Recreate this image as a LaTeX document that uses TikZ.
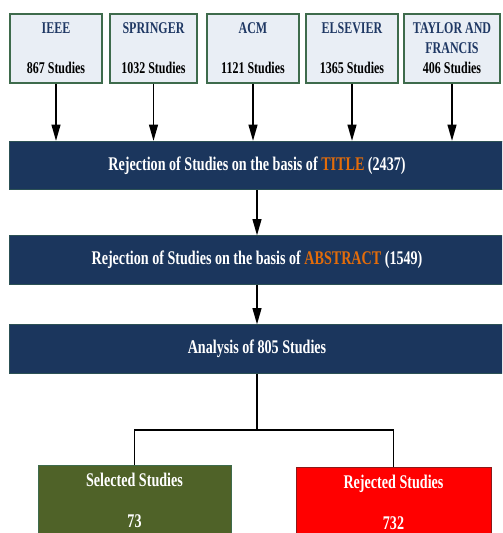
\documentclass[tikz,border=0pt]{standalone}
\usepackage{fontspec}
\setmainfont{Liberation Serif}[FakeStretch=0.73]
\usetikzlibrary{arrows.meta}
\definecolor{srcfill}{HTML}{E9EEF5}
\definecolor{srcline}{HTML}{3E6B4C}
\definecolor{navyfill}{HTML}{1B365D}
\definecolor{navytext}{HTML}{1F3864}
\definecolor{hilite}{HTML}{E36C0A}
\definecolor{olivefill}{HTML}{4F6228}
\definecolor{darkred}{HTML}{8B1A1A}
\tikzset{>={Triangle[length=14pt,width=7.5pt]}}

\begin{document}
\begin{tikzpicture}[x=0.03cm,y=-0.03cm,
  source/.style={draw=srcline,fill=srcfill,line width=0.9pt,minimum height=2.07cm,
    inner sep=0pt,align=center,text=navytext,font=\bfseries\fontsize{14}{17}\selectfont},
  stage/.style={draw=srcline!50!navyfill,fill=navyfill,line width=0.6pt,minimum width=14.88cm,
    minimum height=1.45cm,inner sep=0pt,text=white,font=\bfseries\fontsize{16.5}{19}\selectfont},
  result/.style={line width=0.8pt,minimum height=2.1cm,inner sep=0pt,align=center,
    text=white,font=\bfseries\fontsize{16.5}{19}\selectfont},
  flow/.style={line width=1.6pt}
]
\useasboundingbox (0,0) rectangle (502,533);
\clip (0,0) rectangle (502,533);

% sources
\node[source,minimum width=2.76cm] (ieee) at (56,48.5) {IEEE\\\mbox{}\\{\color{black}867 Studies}};
\node[source,minimum width=2.61cm] (springer) at (153.5,48.5) {SPRINGER\\\mbox{}\\{\color{black}1032 Studies}};
\node[source,minimum width=2.76cm] (acm) at (253,48.5) {ACM\\\mbox{}\\{\color{black}1121 Studies}};
\node[source,minimum width=2.76cm] (elsevier) at (352,48.5) {ELSEVIER\\\mbox{}\\{\color{black}1365 Studies}};
\node[source,minimum width=2.88cm] (taylor) at (452,48.5) {TAYLOR AND\\FRANCIS\\{\color{black}406 Studies}};

% screening stages
\node[stage] (title) at (257,165.5) {Rejection of Studies on the basis of {\color{hilite}TITLE} (2437)};
\node[stage] (abstract) at (257,260) {Rejection of Studies on the basis of {\color{hilite}ABSTRACT} (1549)};
\node[stage] (analysis) at (257,349) {Analysis of 805 Studies};

% outcome
\node[result,draw=srcline,fill=olivefill,minimum width=5.79cm] (selected) at (134.5,500) {Selected Studies\\[16pt]73};
\node[result,draw=darkred,fill=red,minimum width=5.85cm] (rejected) at (393.5,502) {Rejected Studies\\[16pt]732};

\foreach \src in {ieee,springer,acm,elsevier,taylor}
  \draw[flow,->] (\src.south) -- (\src.south |- title.north);
\draw[flow,->] (title) -- (abstract);
\draw[flow,->] (abstract) -- (analysis);

\draw[flow] (analysis.south) -- (analysis.south |- 0,430) coordinate (fork);
\draw[flow] (selected.north) -- (selected.north |- fork) -- (rejected.north |- fork) -- (rejected.north);
\end{tikzpicture}
\end{document}
